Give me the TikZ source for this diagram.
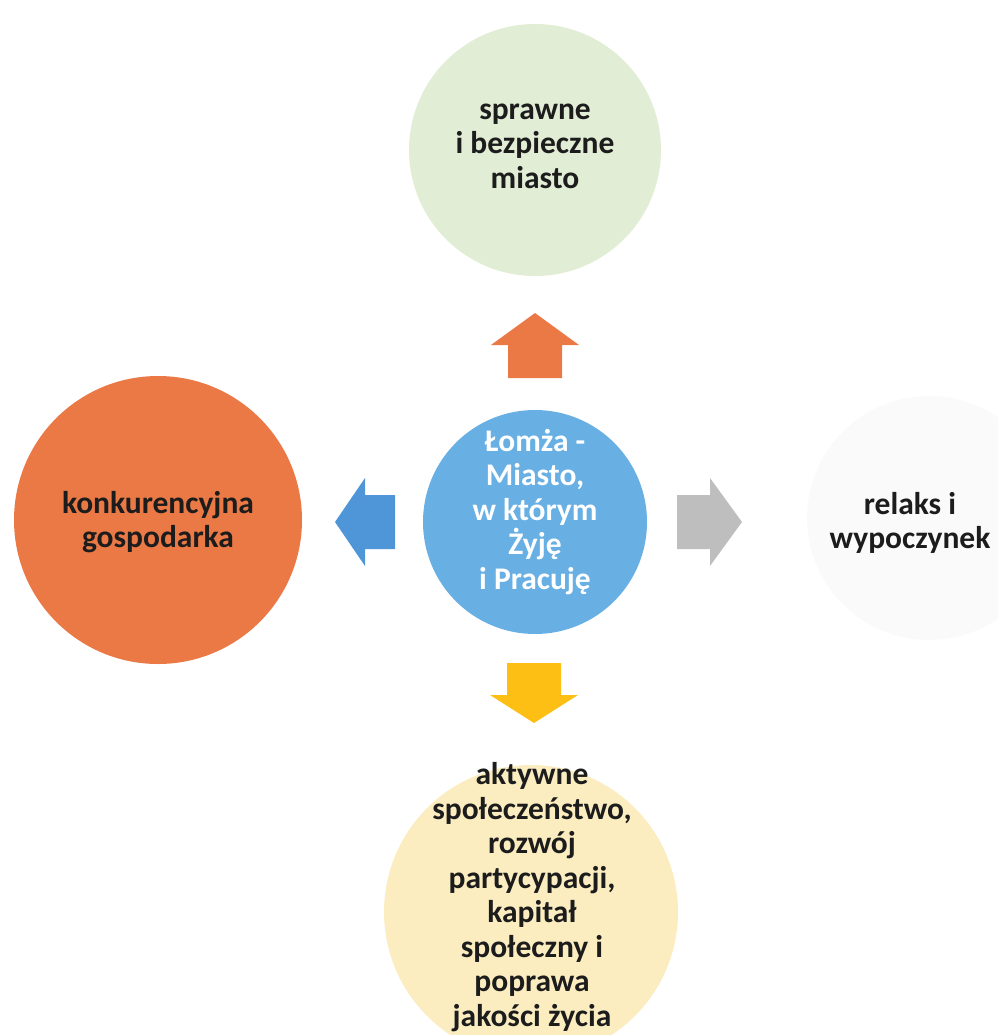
\documentclass[tikz,border=0pt]{standalone}
\usepackage{fontspec}
\setmainfont{Carlito}
\definecolor{zielony}{HTML}{E2EDD5}
\definecolor{pomarancz}{HTML}{EB7946}
\definecolor{niebieski}{HTML}{68AFE4}
\definecolor{zolty}{HTML}{FBEDC0}
\definecolor{szary}{HTML}{FAFAFA}
\definecolor{strzalkaN}{HTML}{4F96D8}
\definecolor{strzalkaS}{HTML}{BEBEBE}
\definecolor{strzalkaZ}{HTML}{FDBF14}
\definecolor{tekst}{HTML}{1C1C1C}
\begin{document}
\begin{tikzpicture}[x=1pt,y=-1pt,font=\bfseries\fontsize{31.5}{34.5}\selectfont,
	bubble/.style={circle,inner sep=0pt},
	caption/.style={align=center,inner sep=0pt,text=tekst}]
	\useasboundingbox (0,0) rectangle (997,1035);
	\node[bubble,fill=zielony,minimum size=252pt] (gora) at (535,150) {};
	\node[bubble,fill=pomarancz,minimum size=288pt] (lewo) at (158,520) {};
	\node[bubble,fill=niebieski,minimum size=224pt] (srodek) at (535,522) {};
	\node[bubble,fill=szary,minimum size=244pt] (prawo) at (929,518) {};
	\node[bubble,fill=zolty,minimum size=294pt] (dol) at (531,912) {};
	\node[caption] (gorat) at (535,146) {sprawne\\i bezpieczne\\miasto};
	\node[caption] (lewot) at (158,522) {konkurencyjna\\gospodarka};
	\node[caption,text=white] (srodekt) at (535,512) {Łomża -\\Miasto,\\w którym\\Żyję\\i Pracuję};
	\node[caption] (prawot) at (910,523) {relaks i\\wypoczynek};
	\node[caption] (dolt) at (532,897) {aktywne\\społeczeństwo,\\rozwój\\partycypacji,\\kapitał\\społeczny i\\poprawa\\jakości życia};
	\fill[pomarancz] (508,378)--(508,345)--(491,345)--(535,313)--(579,345)--(562,345)--(562,378)--cycle;
	\fill[strzalkaZ] (507,663)--(507,695)--(490,695)--(534,723)--(578,695)--(561,695)--(561,663)--cycle;
	\fill[strzalkaN] (395,495)--(365,495)--(365,478)--(335,522)--(365,566)--(365,549)--(395,549)--cycle;
	\fill[strzalkaS] (677,495)--(710,495)--(710,478)--(742,522)--(710,566)--(710,549)--(677,549)--cycle;
\end{tikzpicture}
\end{document}
